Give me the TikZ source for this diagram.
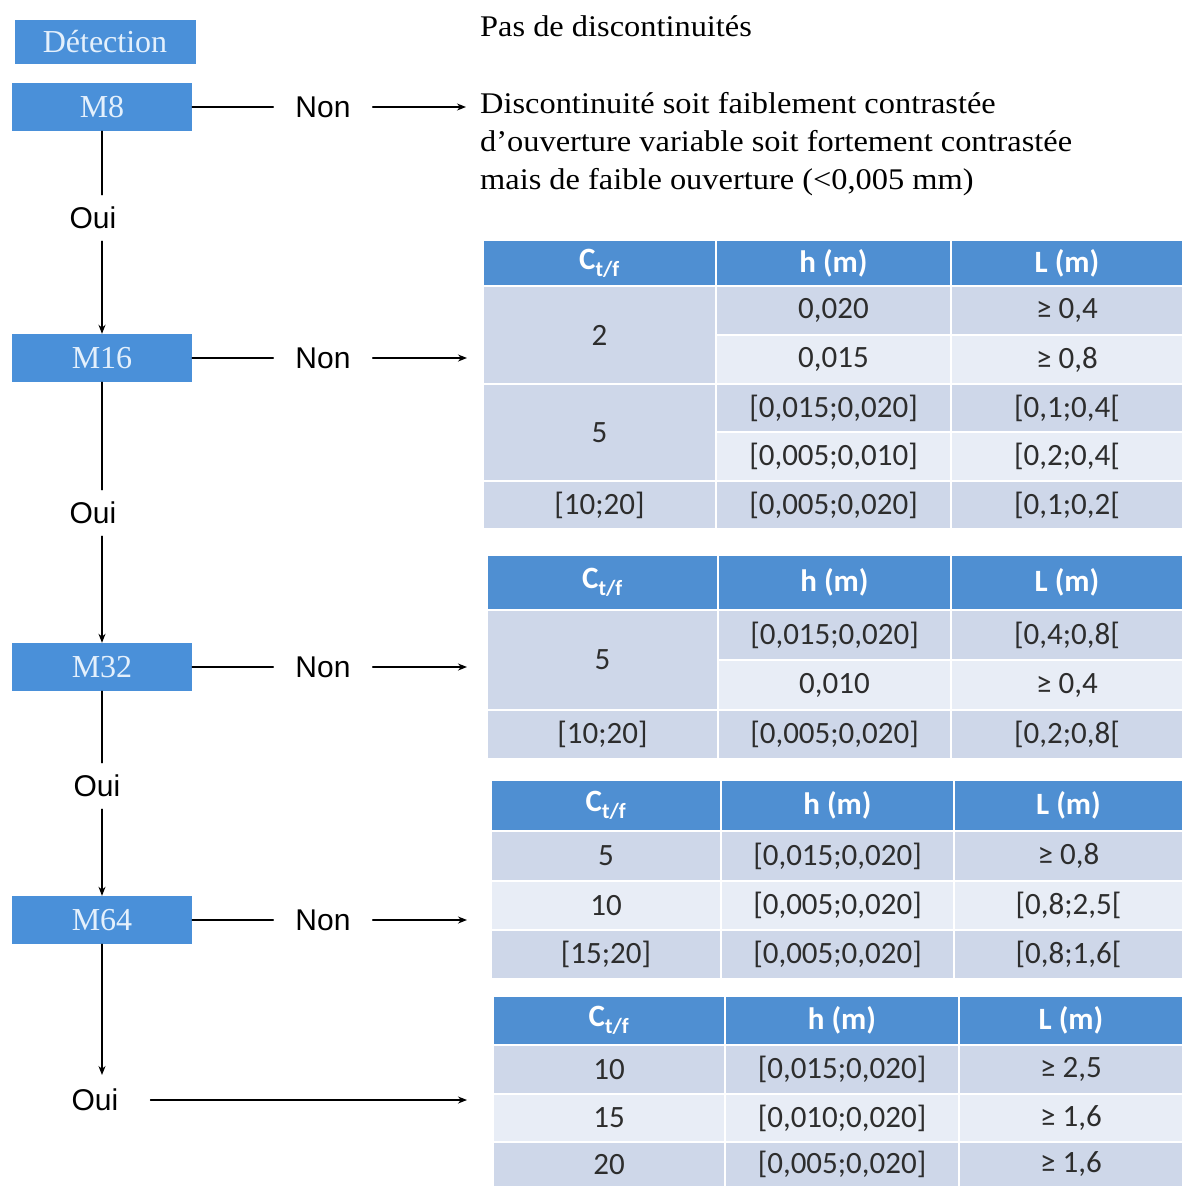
\documentclass[tikz,border=0pt]{standalone}
\usepackage{fontspec}
\setmainfont{Liberation Serif}
\newfontfamily\descfont[FakeStretch=1.08]{Liberation Serif}
\newfontfamily\tabfont{Carlito}
\newfontfamily\labfont{Liberation Sans}
\usetikzlibrary{arrows.meta, positioning, calc}

\definecolor{boxblue}{RGB}{74,144,217}
\definecolor{headblue}{RGB}{79,143,210}
\definecolor{banddark}{RGB}{206,215,233}
\definecolor{bandlight}{RGB}{232,237,246}
\definecolor{celltxt}{RGB}{45,45,45}
\definecolor{boxtxt}{RGB}{228,240,252}

% one cell: fill, x1, y1, x2, y2, text
\newcommand{\tcell}[6]{%
  \path[fill=#1, draw=white, line width=2pt] (#2,#3) rectangle (#4,#5);
  \node[celltext] at ($(#2,#3)!0.5!(#4,#5)$) {#6};}
% h and L cells of one row: fill, y1, y2, x2, x3, x4, h, L
\newcommand{\hlrow}[8]{%
  \tcell{#1}{#4}{#2}{#5}{#3}{#7}
  \tcell{#1}{#5}{#2}{#6}{#3}{#8}}
% header: x1, x2, x3, x4, y1, y2
\newcommand{\thead}[6]{%
  \tcell{headblue}{#1}{#5}{#2}{#6}{\color{white}\bfseries C\textsubscript{t/f}}
  \tcell{headblue}{#2}{#5}{#3}{#6}{\color{white}\bfseries h (m)}
  \tcell{headblue}{#3}{#5}{#4}{#6}{\color{white}\bfseries L (m)}}

\begin{document}
\begin{tikzpicture}[x=1pt, y=-1pt, line cap=round,
    box/.style={fill=boxblue, text=boxtxt, minimum width=180pt, minimum height=48pt,
      inner sep=0pt, font=\fontsize{32}{34}\selectfont},
    lab/.style={text=black, inner xsep=22pt, inner ysep=4pt, font=\labfont\fontsize{30}{32}\selectfont},
    celltext/.style={text=celltxt, font=\tabfont\fontsize{31}{33}\selectfont},
    link/.style={line width=1.4pt, black},
    arr/.style={link, -{Stealth[length=9pt, width=7pt]}}]
    \useasboundingbox (0,0) rectangle (1183,1187);

    % boites de gauche
    \node[box, minimum height=44pt, minimum width=181pt] (det) at (105,42) {Détection};
    \node[box] (m8) at (102,107) {M8};
    \node[box] (m16) at (102,358) {M16};
    \node[box] (m32) at (102,667) {M32};
    \node[box] (m64) at (102,920) {M64};

    % etiquettes
    \node[lab] (non8) at (323,107) {Non};
    \node[lab] (non16) at (323,358) {Non};
    \node[lab] (non32) at (323,667) {Non};
    \node[lab] (non64) at (323,920) {Non};
    \node[lab, inner ysep=12pt] (oui8) at (93,218) {Oui};
    \node[lab, inner ysep=12pt] (oui16) at (93,513) {Oui};
    \node[lab, inner ysep=12pt] (oui32) at (97,786) {Oui};
    \node[lab, inner xsep=4pt] (oui64) at (95,1100) {Oui};

    % textes en haut
    \node[anchor=west, font=\descfont\fontsize{30}{38}\selectfont, inner sep=0pt] (pas) at (480,26) {Pas de discontinuités};
    \node[anchor=north west, align=left, font=\descfont\fontsize{30}{38}\selectfont, inner sep=0pt] (desc) at (480,92)
      {Discontinuité soit faiblement contrastée\\
       d’ouverture variable soit fortement contrastée\\
       mais de faible ouverture (<0,005 mm)};

    \coordinate (tab16) at (467,358);
    \coordinate (tab32) at (467,667);
    \coordinate (tab64) at (467,920);
    \coordinate (tabfin) at (467,1100);
    \coordinate (bas) at (102,1075);

    % liaisons
    \draw[link] (m8.east) -- (non8.west);
    \draw[arr] (non8.east) -- (non8.east -| 466,0);
    \draw[link] (m16.east) -- (non16.west);
    \draw[arr] (non16.east) -- (tab16);
    \draw[link] (m32.east) -- (non32.west);
    \draw[arr] (non32.east) -- (tab32);
    \draw[link] (m64.east) -- (non64.west);
    \draw[arr] (non64.east) -- (tab64);

    \draw[link] (m8.south) -- (m8.south |- oui8.north);
    \draw[arr] (m8.south |- oui8.south) -- (m16.north);
    \draw[link] (m16.south) -- (m16.south |- oui16.north);
    \draw[arr] (m16.south |- oui16.south) -- (m32.north);
    \draw[link] (m32.south) -- (m32.south |- oui32.north);
    \draw[arr] (m32.south |- oui32.south) -- (m64.north);
    \draw[arr] (m64.south) -- (bas);
    \draw[arr] (oui64.east) ++(28,0) -- (tabfin);

    % tableau M16
    \thead{483}{716}{951}{1183}{240}{286}
    \tcell{banddark}{483}{286}{716}{384}{2}
    \tcell{banddark}{483}{384}{716}{481}{5}
    \tcell{banddark}{483}{481}{716}{529}{[10;20]}
    \hlrow{banddark}{286}{335}{716}{951}{1183}{0,020}{≥ 0,4}
    \hlrow{bandlight}{335}{384}{716}{951}{1183}{0,015}{≥ 0,8}
    \hlrow{banddark}{384}{432}{716}{951}{1183}{[0,015;0,020]}{[0,1;0,4[}
    \hlrow{bandlight}{432}{481}{716}{951}{1183}{[0,005;0,010]}{[0,2;0,4[}
    \hlrow{banddark}{481}{529}{716}{951}{1183}{[0,005;0,020]}{[0,1;0,2[}

    % tableau M32
    \thead{487}{718}{951}{1183}{555}{610}
    \tcell{banddark}{487}{610}{718}{710}{5}
    \tcell{banddark}{487}{710}{718}{759}{[10;20]}
    \hlrow{banddark}{610}{660}{718}{951}{1183}{[0,015;0,020]}{[0,4;0,8[}
    \hlrow{bandlight}{660}{710}{718}{951}{1183}{0,010}{≥ 0,4}
    \hlrow{banddark}{710}{759}{718}{951}{1183}{[0,005;0,020]}{[0,2;0,8[}

    % tableau M64
    \thead{491}{721}{954}{1183}{780}{831}
    \tcell{banddark}{491}{831}{721}{881}{5}
    \tcell{bandlight}{491}{881}{721}{930}{10}
    \tcell{banddark}{491}{930}{721}{979}{[15;20]}
    \hlrow{banddark}{831}{881}{721}{954}{1183}{[0,015;0,020]}{≥ 0,8}
    \hlrow{bandlight}{881}{930}{721}{954}{1183}{[0,005;0,020]}{[0,8;2,5[}
    \hlrow{banddark}{930}{979}{721}{954}{1183}{[0,005;0,020]}{[0,8;1,6[}

    % tableau final
    \thead{493}{725}{959}{1183}{996}{1045}
    \tcell{banddark}{493}{1045}{725}{1094}{10}
    \tcell{bandlight}{493}{1094}{725}{1142}{15}
    \tcell{banddark}{493}{1142}{725}{1187}{20}
    \hlrow{banddark}{1045}{1094}{725}{959}{1183}{[0,015;0,020]}{≥ 2,5}
    \hlrow{bandlight}{1094}{1142}{725}{959}{1183}{[0,010;0,020]}{≥ 1,6}
    \hlrow{banddark}{1142}{1187}{725}{959}{1183}{[0,005;0,020]}{≥ 1,6}
\end{tikzpicture}
\end{document}
